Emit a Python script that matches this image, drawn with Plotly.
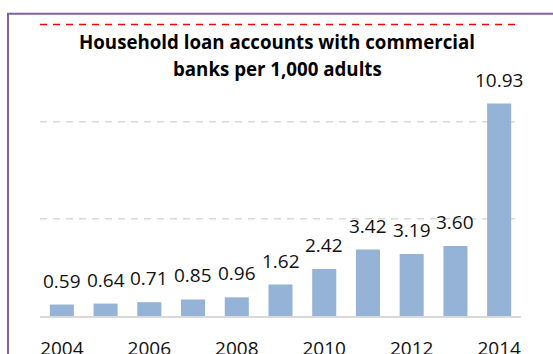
import plotly.graph_objects as go

# Household loan accounts per 1,000 adults, by year
years = [2004, 2005, 2006, 2007, 2008, 2009, 2010, 2011, 2012, 2013, 2014]
accounts = [0.59, 0.64, 0.71, 0.85, 0.96, 1.62, 2.42, 3.42, 3.19, 3.60, 10.93]
value_labels = ["0.59", "0.64", "0.71", "0.85", "0.96", "1.62", "2.42",
                "3.42", "3.19", "3.60", "10.93"]
x_ticks = [2004, 2006, 2008, 2010, 2012, 2014]
grid_vals = [5, 10, 15]

title_lines = ["Household loan accounts with commercial", "banks per 1,000 adults"]

FONT = "Open Sans"
W, H = 553, 354
Y_TOP = 16
ML, MR, MB = 40, 32, 38
MT = 24 - (Y_TOP - 15) * 292 / 15   # keeps the 15 gridline 24px from the top
plot_w = W - ML - MR
plot_h = H - MT - MB

fig = go.Figure(
    go.Bar(
        x=years,
        y=accounts,
        marker=dict(color="#95B3D7", line=dict(width=0)),
        hoverinfo="skip",
    )
)

# dashed horizontal gridlines behind the bars
for g in grid_vals:
    fig.add_shape(
        type="line", xref="x", yref="y",
        x0=2003.5, x1=2014.5, y0=g, y1=g,
        line=dict(color="#FF0000" if g == 15 else "#D9D9D9", width=1.5, dash="7px,6px"),
        layer="below",
    )

# value labels above each bar
for yr, v, lab in zip(years, accounts, value_labels):
    fig.add_annotation(
        x=yr, y=v, text=lab, showarrow=False,
        xanchor="center", yanchor="middle", yshift=24,
        font=dict(family=FONT, size=19, color="#111111"),
    )

# chart title inside the frame, one annotation per line
for line, ypix in zip(title_lines, [41.5, 68.5]):
    fig.add_annotation(
        xref="paper", yref="paper",
        x=(277 - ML) / plot_w, y=1 - (ypix - MT) / plot_h,
        text=line, showarrow=False,
        xanchor="center", yanchor="middle", align="center",
        font=dict(family=FONT, size=18.7, color="#000000", weight="bold"),
    )

# purple frame around the chart
fig.add_shape(
    type="rect", xref="paper", yref="paper",
    x0=(8 - ML) / plot_w, x1=1.3,
    y0=-0.5, y1=1 - (13.3 - MT) / plot_h,
    line=dict(color="#8064A2", width=2),
    layer="above",
)

fig.update_layout(
    width=W, height=H,
    margin=dict(l=ML, r=MR, t=MT, b=MB, pad=0),
    paper_bgcolor="white", plot_bgcolor="white",
    showlegend=False,
    bargap=0.45,
    xaxis=dict(
        range=[2003.5, 2014.5],
        tickvals=x_ticks,
        ticktext=[str(t) for t in x_ticks],
        showgrid=False, zeroline=False,
        showline=True, linecolor="#D9D9D9", linewidth=2,
        ticks="", ticklabelstandoff=14,
        tickfont=dict(family=FONT, size=19, color="#111111"),
        automargin=False, fixedrange=True,
    ),
    yaxis=dict(
        range=[0, Y_TOP],
        showticklabels=False,
        showgrid=False,
        zeroline=False, showline=False, ticks="",
        automargin=False, fixedrange=True,
    ),
)

fig.write_html("out.html", config={"displayModeBar": False})
